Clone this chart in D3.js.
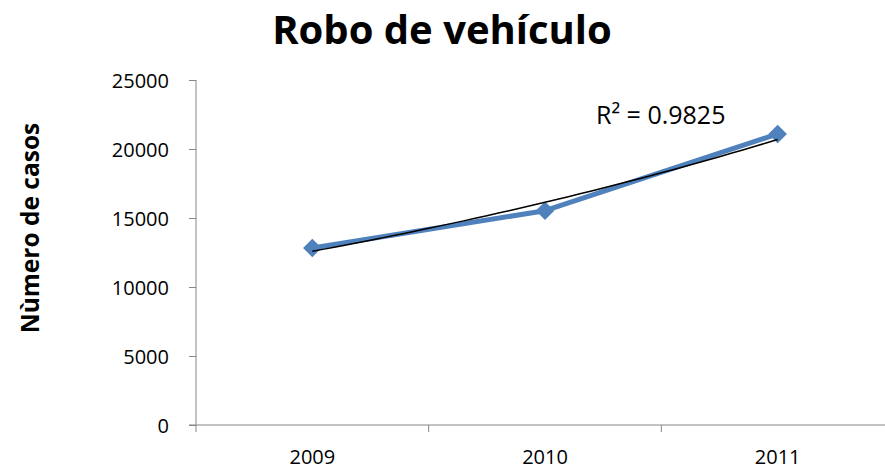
<!DOCTYPE html>
<html>
<head>
<meta charset="utf-8">
<script src="https://cdn.jsdelivr.net/npm/d3@7"></script>
<style>
  body { margin: 0; background: #fff; }
  text { font-family: "Open Sans", sans-serif; fill: #000; }
</style>
</head>
<body>
<div id="chart"></div>
<script>
"use strict";

var years = ["2009", "2010", "2011"];
var casos = [12830, 15530, 21090];
var yTicks = [0, 5000, 10000, 15000, 20000, 25000];

function drawChart() {
    var w = 885, h = 470;
    var margin = {top: 80, right: -9, bottom: 45, left: 196};

    var svg = d3.select("#chart").append("svg")
        .attr("width", w)
        .attr("height", h);

    var x = d3.scaleBand()
        .domain(years)
        .range([margin.left, w - margin.right]);

    var y = d3.scaleLinear()
        .domain([0, 25000])
        .range([h - margin.bottom, margin.top]);

    // y axis
    var yAxis = svg.append("g")
        .attr("transform", "translate(" + margin.left + ",0)")
        .call(d3.axisLeft(y).tickValues(yTicks).tickSize(7).tickPadding(20).tickFormat(d3.format("d")));
    yAxis.select(".domain").remove();
    yAxis.append("line").attr("y1", y(0)).attr("y2", y(25000)).attr("stroke", "#868686");
    yAxis.selectAll("line").attr("stroke", "#868686");
    yAxis.selectAll("text").style("font-size", "20px").style("font-family", "'Open Sans', sans-serif").attr("dy", "0.36em");

    // x axis
    var xAxis = svg.append("g")
        .attr("transform", "translate(0," + y(0) + ")");
    xAxis.append("line")
        .attr("x1", margin.left - 7).attr("x2", w)
        .attr("stroke", "#868686");
    var edges = d3.range(years.length + 1).map(function(i){
        return margin.left + i * x.step();
    });
    xAxis.selectAll(".tk").data(edges).enter().append("line")
        .attr("x1", function(d){ return d; })
        .attr("x2", function(d){ return d; })
        .attr("y1", 0).attr("y2", 7)
        .attr("stroke", "#868686");
    xAxis.selectAll(".lbl").data(years).enter().append("text")
        .attr("x", function(d){ return x(d) + x.bandwidth() / 2; })
        .attr("y", 39)
        .attr("text-anchor", "middle")
        .style("font-size", "20px")
        .text(function(d){ return d; });

    // exponential trendline (fit on log values)
    var xs = years.map(function(d, i){ return i + 1; });
    var ls = casos.map(function(v){ return Math.log(v); });
    var mx = d3.mean(xs), ml = d3.mean(ls);
    var b = d3.sum(xs, function(v, i){ return (v - mx) * (ls[i] - ml); }) /
            d3.sum(xs, function(v){ return (v - mx) * (v - mx); });
    var a = ml - b * mx;
    var ssRes = d3.sum(xs, function(v, i){ var e = ls[i] - (a + b * v); return e * e; });
    var ssTot = d3.sum(ls, function(v){ return (v - ml) * (v - ml); });
    var r2 = 1 - ssRes / ssTot;

    var trend = d3.range(1, 3.001, 0.05).map(function(t){
        return [x(years[0]) + x.bandwidth() / 2 + (t - 1) * x.step(), y(Math.exp(a + b * t))];
    });

    // series line
    svg.append("path")
        .datum(casos)
        .attr("fill", "none")
        .attr("stroke", "#4F81BD")
        .attr("stroke-width", 5)
        .attr("stroke-linejoin", "round")
        .attr("d", d3.line()
            .x(function(d, i){ return x(years[i]) + x.bandwidth() / 2; })
            .y(function(d){ return y(d); }));

    svg.selectAll(".pt").data(casos).enter().append("path")
        .attr("transform", function(d, i){
            return "translate(" + (x(years[i]) + x.bandwidth() / 2) + "," + y(d) + ")";
        })
        .attr("d", d3.symbol().type(d3.symbolDiamond2).size(220))
        .attr("fill", "#4F81BD");

    svg.append("path")
        .datum(trend)
        .attr("fill", "none")
        .attr("stroke", "#000")
        .attr("stroke-width", 1.5)
        .attr("d", d3.line().curve(d3.curveMonotoneX));

    svg.append("text")
        .attr("x", 596)
        .attr("y", 124)
        .style("font-size", "25px")
        .text("R\u00b2 = " + r2.toFixed(4));

    // title
    svg.append("text")
        .attr("x", 442)
        .attr("y", 44)
        .attr("text-anchor", "middle")
        .style("font-size", "40px")
        .style("font-weight", "bold")
        .text("Robo de vehículo");

    // y label
    svg.append("text")
        .attr("transform", "translate(39," + 228 + ") rotate(-90)")
        .attr("text-anchor", "middle")
        .style("font-size", "24.5px")
        .style("font-weight", "bold")
        .text("Nùmero de casos");
}

window.onload = drawChart;
</script>
</body>
</html>
